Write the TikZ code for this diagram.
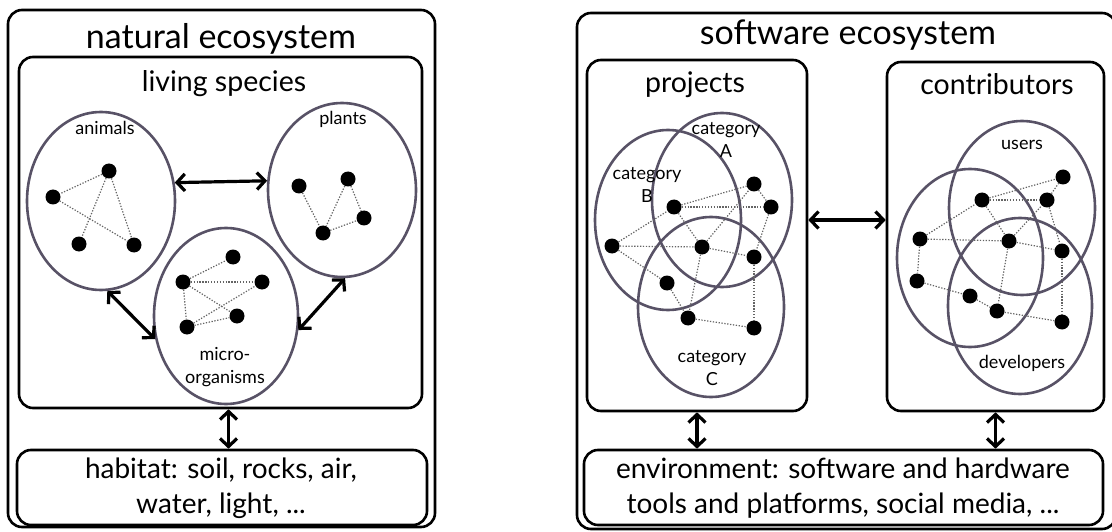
\documentclass[tikz,border=0pt]{standalone}
\usepackage{fontspec}
\setmainfont{Lato}
\usetikzlibrary{shapes.geometric,arrows.meta}
\definecolor{ellc}{RGB}{88,82,102}
\definecolor{linkc}{RGB}{100,100,100}
\tikzset{
  box/.style={draw=black, line width=2.6pt, rounded corners=14pt, inner sep=0pt, rectangle},
  grp/.style={draw=ellc, line width=2.6pt, ellipse, inner sep=0pt},
  dot/.style={circle, fill=black, inner sep=0pt, minimum size=15pt},
  link/.style={draw=linkc, line width=1.2pt, dash pattern=on 1.3pt off 1.6pt},
  biarrow/.style={line width=3.2pt, {Straight Barb[length=8pt,width=17pt,line width=3.2pt]}-{Straight Barb[length=8pt,width=17pt,line width=3.2pt]}},
  bigtxt/.style={font=\fontsize{34}{40}\selectfont, inner sep=0pt, anchor=base},
  midtxt/.style={font=\fontsize{28.5}{34}\selectfont, inner sep=0pt, anchor=base},
  envtxt/.style={font=\fontsize{28}{35}\selectfont, inner sep=0pt, align=center},
  smalltxt/.style={font=\fontsize{18}{23}\selectfont, inner sep=0pt, align=center}
}
\begin{document}
\begin{tikzpicture}[x=1pt,y=-1pt]
\useasboundingbox (0,0) rectangle (1112,532);
% ---------------- left: natural ecosystem
\node[box, minimum width=427pt, minimum height=517pt] (outerL) at (221.5,268.5) {};
\node[bigtxt] (tL) at (221,49) {natural ecosystem};
\node[box, minimum width=403pt, minimum height=351pt] (living) at (220.5,232.5) {};
\node[midtxt] (tLiving) at (224,92) {living species};
\node[box, minimum width=410pt, minimum height=75pt] (habitat) at (222,487.5) {};
\node[envtxt] (tHab) at (221,488) {habitat: soil, rocks, air,\\water, light, ...};

\node[grp, minimum width=148pt, minimum height=178pt] (animals) at (101,201) {};
\node[grp, minimum width=148pt, minimum height=174pt] (plants) at (342,190) {};
\node[grp, minimum width=144pt, minimum height=176pt] (micro) at (226,316) {};
\node[smalltxt, anchor=base] (lAn) at (105,135) {animals};
\node[smalltxt, anchor=base] (lPl) at (343,125) {plants};
\node[smalltxt] (lMi) at (225,367) {micro-\\organisms};

\node[dot] (a1) at (109,171) {};
\node[dot] (a2) at (53,197) {};
\node[dot] (a3) at (79,244) {};
\node[dot] (a4) at (134,245) {};
\draw[link] (a1) -- (a2); \draw[link] (a1) -- (a3); \draw[link] (a1) -- (a4); \draw[link] (a2) -- (a4);

\node[dot] (p1) at (299,186) {};
\node[dot] (p2) at (348,179) {};
\node[dot] (p3) at (364,218) {};
\node[dot] (p4) at (323,233) {};
\draw[link] (p1) -- (p4); \draw[link] (p2) -- (p4); \draw[link] (p2) -- (p3); \draw[link] (p4) -- (p3);

\node[dot] (m1) at (233,257) {};
\node[dot] (m2) at (183,282) {};
\node[dot] (m3) at (262,282) {};
\node[dot] (m4) at (237,316) {};
\node[dot] (m5) at (187,327) {};
\draw[link] (m2) -- (m1); \draw[link] (m2) -- (m3); \draw[link] (m2) -- (m4); \draw[link] (m2) -- (m5);
\draw[link] (m5) -- (m3); \draw[link] (m5) -- (m4);

\draw[biarrow] (animals.14.7) -- (plants.173.8);
\draw[biarrow] (animals.-86.3) -- (micro.198);
\draw[biarrow] (plants.-88) -- (micro.-11);
\draw[biarrow] ([xshift=8pt]living.south) -- ([xshift=8pt]living.south |- habitat.north);

% ---------------- right: software ecosystem
\node[box, minimum width=539pt, minimum height=516pt] (outerR) at (846.5,271) {};
\node[bigtxt] (tR) at (848,45) {software ecosystem};
\node[box, minimum width=220pt, minimum height=351pt] (projects) at (697,235.5) {};
\node[midtxt] (tProj) at (695,93) {projects};
\node[box, minimum width=217pt, minimum height=349pt] (contrib) at (995.5,236.5) {};
\node[midtxt] (tCon) at (997,95) {contributors};
\node[box, minimum width=519pt, minimum height=75pt] (env) at (843.5,487.5) {};
\node[envtxt] (tEnv) at (843,488) {environment: software and hardware\\tools and platforms, social media, ...};

\node[grp, minimum width=140pt, minimum height=174pt] (catA) at (722,200) {};
\node[grp, minimum width=146pt, minimum height=180pt] (catB) at (668,220) {};
\node[grp, minimum width=146pt, minimum height=180pt] (catC) at (711,307) {};
\node[smalltxt] (lA) at (726,140) {category\\A};
\node[smalltxt] (lB) at (647,185) {category\\B};
\node[smalltxt] (lC) at (712,368) {category\\C};

\node[dot] (d1) at (754,184) {};
\node[dot] (d2) at (771,207) {};
\node[dot] (d3) at (674,207) {};
\node[dot] (d4) at (612,246) {};
\node[dot] (d5) at (702,247) {};
\node[dot] (d6) at (754,257) {};
\node[dot] (d7) at (667,283) {};
\node[dot] (d8) at (688,318) {};
\node[dot] (d9) at (754,328) {};
\draw[link] (d3) -- (d1); \draw[link] (d3) -- (d2); \draw[link] (d1) -- (d2);
\draw[link] (d4) -- (d3); \draw[link] (d4) -- (d5); \draw[link] (d3) -- (d5);
\draw[link] (d5) -- (d1); \draw[link] (d5) -- (d6); \draw[link] (d2) -- (d6);
\draw[link] (d4) -- (d7); \draw[link] (d7) -- (d8); \draw[link] (d5) -- (d8);
\draw[link] (d8) -- (d9); \draw[link] (d6) -- (d9);

\node[grp, minimum width=146pt, minimum height=174pt] (users) at (1022,208) {};
\node[grp, minimum width=146pt, minimum height=178pt] (others) at (970,258) {};
\node[grp, minimum width=144pt, minimum height=176pt] (devs) at (1020,306) {};
\node[smalltxt, anchor=base] (lU) at (1022,150) {users};
\node[smalltxt, anchor=base] (lD) at (1022,368) {developers};

\node[dot] (c1) at (1063,177) {};
\node[dot] (c2) at (982,200) {};
\node[dot] (c3) at (1047,200) {};
\node[dot] (c4) at (920,239) {};
\node[dot] (c5) at (1009,241) {};
\node[dot] (c6) at (1062,251) {};
\node[dot] (c7) at (917,281) {};
\node[dot] (c8) at (970,296) {};
\node[dot] (c9) at (997,311) {};
\node[dot] (c10) at (1062,322) {};
\draw[link] (c2) -- (c1); \draw[link] (c2) -- (c3); \draw[link] (c3) -- (c1);
\draw[link] (c4) -- (c2); \draw[link] (c4) -- (c5); \draw[link] (c2) -- (c5);
\draw[link] (c5) -- (c3); \draw[link] (c5) -- (c6); \draw[link] (c3) -- (c6);
\draw[link] (c4) -- (c7); \draw[link] (c7) -- (c8); \draw[link] (c8) -- (c9);
\draw[link] (c5) -- (c9); \draw[link] (c9) -- (c10); \draw[link] (c6) -- (c10);

\draw[biarrow] (projects.east |- 0,220) -- (contrib.west |- 0,220);
\draw[biarrow] (projects.south) -- (projects.south |- env.north);
\draw[biarrow] (contrib.south) -- (contrib.south |- env.north);
\end{tikzpicture}
\end{document}
